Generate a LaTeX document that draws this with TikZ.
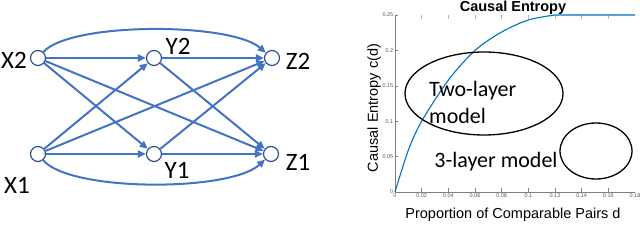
\documentclass[tikz,border=0pt]{standalone}
\usepackage{fontspec}
\setmainfont{Carlito}
\newfontfamily\arialfont{Liberation Sans}
\usepackage{xcolor}
\usetikzlibrary{arrows.meta, positioning, calc}
\definecolor{edgeblue}{RGB}{68, 114, 196}
\definecolor{nodeblue}{RGB}{47, 82, 143}
\definecolor{curveblue}{RGB}{0, 114, 189}
\definecolor{axisgray}{RGB}{130, 130, 130}
\definecolor{ticktext}{RGB}{90, 90, 90}

\tikzset{
    varnode/.style={circle, draw=nodeblue, fill=white, line width=1.2pt,
          minimum size=15pt, inner sep=0pt},
    varlabel/.style={font=\fontsize{25}{27}\selectfont, inner sep=0pt},
    edge/.style={draw=edgeblue, line width=2pt, -{Triangle[length=8pt, width=7pt]}},
    ticklabel/.style={font=\arialfont\fontsize{5.5}{6}\selectfont, text=ticktext, inner sep=1.5pt},
    region/.style={draw=black, line width=1.3pt},
    regionlabel/.style={font=\fontsize{22}{27}\selectfont, align=left, inner sep=0pt}
}

\begin{document}
\begin{tikzpicture}[x=1pt, y=-1pt]
    \useasboundingbox (0,0) rectangle (640,244);

    % causal graph
    \node[varnode] (X2) at (38,58) {};
    \node[varnode] (Y2) at (154,58) {};
    \node[varnode] (Z2) at (272,58) {};
    \node[varnode] (X1) at (38,154) {};
    \node[varnode] (Y1) at (154,154) {};
    \node[varnode] (Z1) at (271,154) {};

    \node[varlabel] (X2lbl) at (14,60) {X2};
    \node[varlabel] (Y2lbl) at (178,46) {Y2};
    \node[varlabel] (Z2lbl) at (298,61) {Z2};
    \node[varlabel] (X1lbl) at (17,185) {X1};
    \node[varlabel] (Y1lbl) at (177,170) {Y1};
    \node[varlabel] (Z1lbl) at (298,162) {Z1};

    \draw[edge] (X2) -- (Y2);
    \draw[edge] (X2) -- (Y1);
    \draw[edge] (X2) -- (Z1);
    \draw[edge] (Y2) -- (Z2);
    \draw[edge] (Y2) -- (Z1);
    \draw[edge] (X1) -- (Y1);
    \draw[edge] (X1) -- (Y2);
    \draw[edge] (X1) -- (Z2);
    \draw[edge] (Y1) -- (Z1);
    \draw[edge] (Y1) -- (Z2);
    \draw[edge] (X2) .. controls (70,22) and (230,22) .. (Z2);
    \draw[edge] (X1) .. controls (70,192) and (230,192) .. (Z1);

    % entropy plot
    \begin{scope}[shift={(395,192)}, x=13.333pt, y=7.08pt]
        \draw[axisgray, line width=0.6pt] (0,25) -- (0,0) -- (18,0);
        \foreach \d in {2,4,...,16} {
            \draw[axisgray, line width=0.5pt] (\d,0) -- (\d,0.6);
            \draw[axisgray!60, line width=0.5pt] (\d,25) -- (\d,24.4);
        }
        \foreach \d/\t in {0/0, 2/0.02, 4/0.04, 6/0.06, 8/0.08, 10/0.1, 12/0.12, 14/0.14, 16/0.16, 18/0.18}
            \node[ticklabel, below] (xt\d) at (\d,0) {\t};
        \foreach \c/\t in {0/0, 5/0.05, 10/0.1, 15/0.15, 20/0.2, 25/0.25} {
            \draw[axisgray, line width=0.5pt] (0,\c) -- (0.25,\c);
            \node[ticklabel, left] (yt\c) at (0,\c) {\t};
        }
        \draw[curveblue, line width=1.1pt] plot[smooth] coordinates
            {(0,0) (1,5.9) (2,10) (4,15.8) (6,20) (8,22.6) (10,24.3) (12,25)} -- (18,25);
    \end{scope}

    \node[font=\arialfont\bfseries\fontsize{14.5}{15}\selectfont] (title) at (513,8) {Causal Entropy};
    \node[font=\arialfont\fontsize{14.5}{15}\selectfont] (xlabel) at (513,215) {Proportion of Comparable Pairs d};
    \node[font=\arialfont\fontsize{14.5}{15}\selectfont, rotate=90] (ylabel) at (374,108) {Causal Entropy c(d)};

    \draw[region] (484,93.5) ellipse [x radius=79pt, y radius=41.5pt];
    \draw[region] (596,151) ellipse [x radius=36pt, y radius=28pt];
    \node[regionlabel, anchor=west] (twolayer) at (429,102) {Two-layer\\model};
    \node[regionlabel] (threelayer) at (496,162) {3-layer model};
\end{tikzpicture}
\end{document}
